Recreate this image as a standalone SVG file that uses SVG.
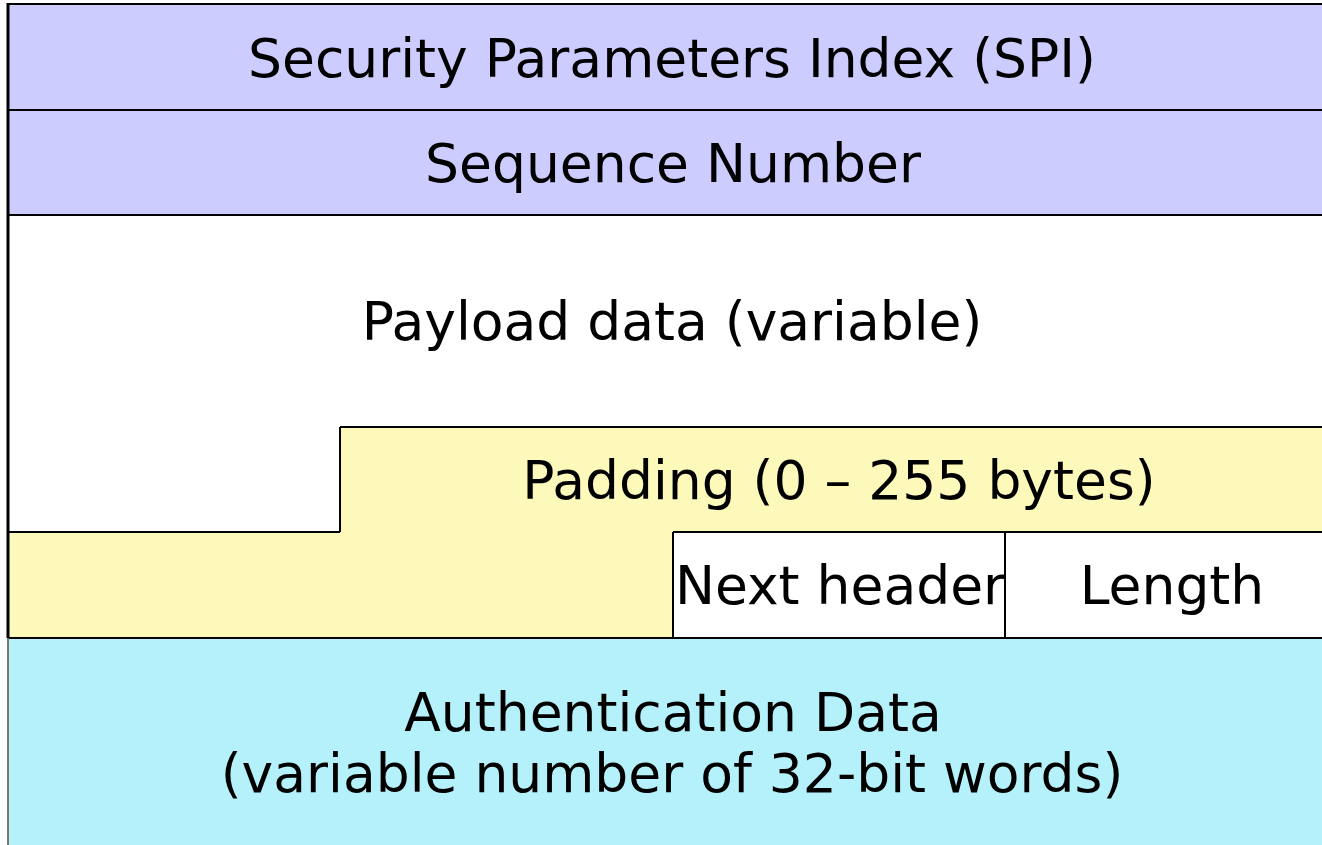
<svg xmlns="http://www.w3.org/2000/svg" width="1322" height="845" viewBox="0 0 1322 845">
<style>
.t{font-family:"DejaVu Sans",sans-serif;font-size:53.5px;fill:#000;text-anchor:middle}
.ln{stroke:#000;stroke-width:2;fill:none}
</style>
<rect x="0" y="0" width="1322" height="845" fill="#fff"/>
<g id="spi"><rect x="8" y="4" width="1330" height="106" fill="#ccccff"/><text class="t" x="672" y="77">Security Parameters Index (SPI)</text></g>
<g id="seq"><rect x="8" y="110" width="1330" height="105" fill="#ccccff"/><text class="t" x="673" y="182">Sequence Number</text></g>
<g id="payload"><path d="M8 215H1338V427H340V532H8Z" fill="#fff"/><text class="t" x="672" y="340">Payload data (variable)</text></g>
<g id="padding"><path d="M340 427H1338V532H673V638H8V532H340Z" fill="#fcf9bb"/><text class="t" x="839" y="499">Padding (0 – 255 bytes)</text></g>
<g id="nexthdr"><rect x="673" y="532" width="332" height="106" fill="#fff"/><text class="t" x="840" y="604">Next header</text></g>
<g id="length"><rect x="1005" y="532" width="333" height="106" fill="#fff"/><text class="t" x="1172" y="604">Length</text></g>
<g id="auth"><rect x="8" y="638" width="1330" height="220" fill="#b5f1fb"/><text class="t" x="673" y="731">Authentication Data</text><text class="t" x="672" y="792">(variable number of 32-bit words)</text></g>
<g id="lines">
<path class="ln" d="M8 4H1322M8 110H1322M8 215H1322M340 427H1322M8 532H340M673 532H1322M8 638H1322M340 427V532M673 532V638M1005 532V638"/>
<path d="M8 3V638" stroke="#000" stroke-width="3"/>
<path d="M8 638V845" stroke="#777" stroke-width="2"/>
</g>
</svg>
